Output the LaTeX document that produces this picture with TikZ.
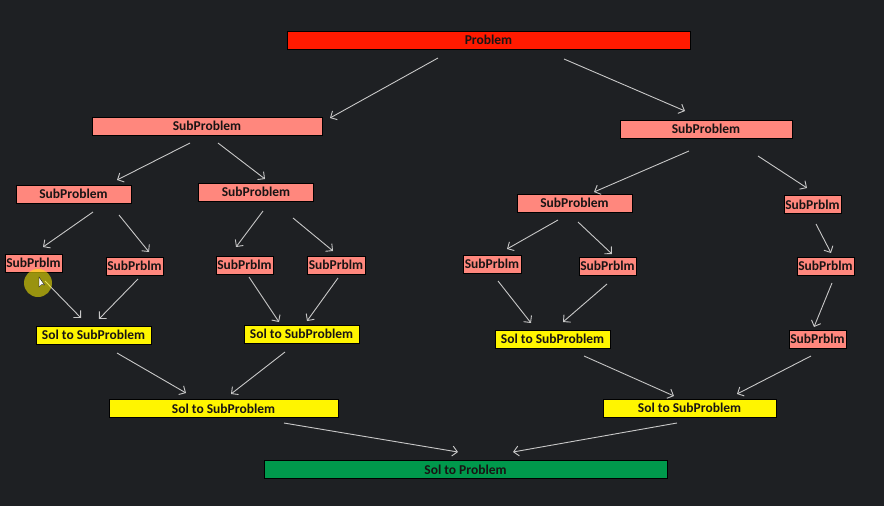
\documentclass[tikz,border=0pt]{standalone}
\usepackage{fontspec}
\setmainfont{Carlito}
\usetikzlibrary{arrows.meta}
\definecolor{bg}{RGB}{30,32,35}
\definecolor{pred}{RGB}{255,26,0}
\definecolor{psalmon}{RGB}{255,135,125}
\definecolor{pyellow}{RGB}{255,245,0}
\definecolor{pgreen}{RGB}{0,153,76}
\definecolor{parrow}{RGB}{200,200,200}
\definecolor{ptext}{RGB}{25,20,20}
\tikzset{
  box/.style={draw=black, line width=1pt, inner sep=0pt, minimum height=18pt,
    font=\bfseries\fontsize{13.5}{13.5}\selectfont, text=ptext},
  probbox/.style={box, fill=pred},
  subbox/.style={box, fill=psalmon},
  solbox/.style={box, fill=pyellow},
  finbox/.style={box, fill=pgreen},
  arr/.style={draw=parrow, line width=0.9pt, -{Straight Barb[length=5pt,width=10pt]}}
}
\newcommand{\conn}[6]{\draw[arr] ([shift={(#2,#3)}]#1.center) -- ([shift={(#5,#6)}]#4.center);}
\begin{document}
\begin{tikzpicture}[x=1pt,y=-1pt]
\fill[bg] (0,0) rectangle (884,506);
\useasboundingbox (0,0) rectangle (884,506);
% nodes
\node[probbox, minimum width=403pt] (P) at (488.5,40) {Problem};
\node[subbox, minimum width=230pt] (A) at (207,126) {SubProblem};
\node[subbox, minimum width=172pt] (B) at (706,129) {SubProblem};
\node[subbox, minimum width=115pt] (A1) at (73.5,194) {SubProblem};
\node[subbox, minimum width=115pt] (A2) at (256,192) {SubProblem};
\node[subbox, minimum width=115pt] (B1) at (574.5,203) {SubProblem};
\node[subbox, minimum width=57pt] (B2) at (812.5,204.5) {SubPrblm};
\node[subbox, minimum width=57pt] (a1) at (33.5,263) {SubPrblm};
\node[subbox, minimum width=57pt] (a2) at (134.5,266) {SubPrblm};
\node[subbox, minimum width=57pt] (a3) at (244.5,265) {SubPrblm};
\node[subbox, minimum width=58pt] (a4) at (336,265) {SubPrblm};
\node[subbox, minimum width=58pt] (b1) at (492,264) {SubPrblm};
\node[subbox, minimum width=57pt] (b2) at (607.5,266) {SubPrblm};
\node[subbox, minimum width=57pt] (b3) at (825.5,266) {SubPrblm};
\node[subbox, minimum width=57pt] (b4) at (817.5,339) {SubPrblm};
\node[solbox, minimum width=115pt] (sa) at (93.5,335) {Sol to SubProblem};
\node[solbox, minimum width=115pt] (sb) at (301.5,334) {Sol to SubProblem};
\node[solbox, minimum width=115pt] (sc) at (552.5,339) {Sol to SubProblem};
\node[solbox, minimum width=229pt] (SA) at (223.5,408.5) {Sol to SubProblem};
\node[solbox, minimum width=173pt] (SB) at (689.5,408) {Sol to SubProblem};
\node[finbox, minimum width=403pt] (S) at (465.5,469.5) {Sol to Problem};
% connectors
\conn{P}{-50.5}{18}{A}{123}{-8}
\conn{P}{75.5}{19}{B}{-21}{-18}
\conn{A}{-17}{17}{A1}{43.5}{-14}
\conn{A}{11}{17}{A2}{9}{-13}
\conn{A1}{19.5}{18}{a1}{9.5}{-16}
\conn{A1}{45.5}{21}{a2}{14.5}{-14}
\conn{A2}{7}{19}{a3}{-8.5}{-18}
\conn{A2}{37}{26}{a4}{-3}{-14}
\conn{a1}{11.5}{18}{sa}{-12.5}{-17}
\conn{a2}{3.5}{13}{sa}{5.5}{-16}
\conn{a3}{4.5}{12}{sb}{-22.5}{-12}
\conn{a4}{2}{13}{sb}{5.5}{-13}
\conn{sa}{23.5}{18}{SA}{-37.5}{-15.5}
\conn{sb}{-16.5}{18}{SA}{7.5}{-14.5}
\conn{B}{-17}{22}{B1}{19.5}{-11}
\conn{B}{52}{27}{B2}{-5.5}{-16.5}
\conn{B1}{-16.5}{17}{b1}{15}{-15}
\conn{B1}{3.5}{19}{b2}{4.5}{-12}
\conn{B2}{3.5}{19.5}{b3}{5.5}{-13}
\conn{b1}{6}{17}{sc}{-21.5}{-16}
\conn{b2}{-0.5}{18}{sc}{10.5}{-17}
\conn{b3}{6.5}{17}{b4}{-3.5}{-12}
\conn{sc}{31.5}{17}{SB}{-15.5}{-12}
\conn{b4}{-6.5}{17}{SB}{47.5}{-14}
\conn{SA}{60.5}{14.5}{S}{-7.5}{-17.5}
\conn{SB}{-12.5}{15}{S}{47.5}{-17.5}
% cursor highlight
\fill[yellow, opacity=0.55] (38,283) circle (14);
\fill[white, draw=black, line width=0.3pt] (39,277) -- (39,287) -- (41.5,284.5) -- (44.5,285) -- cycle;
\end{tikzpicture}
\end{document}
